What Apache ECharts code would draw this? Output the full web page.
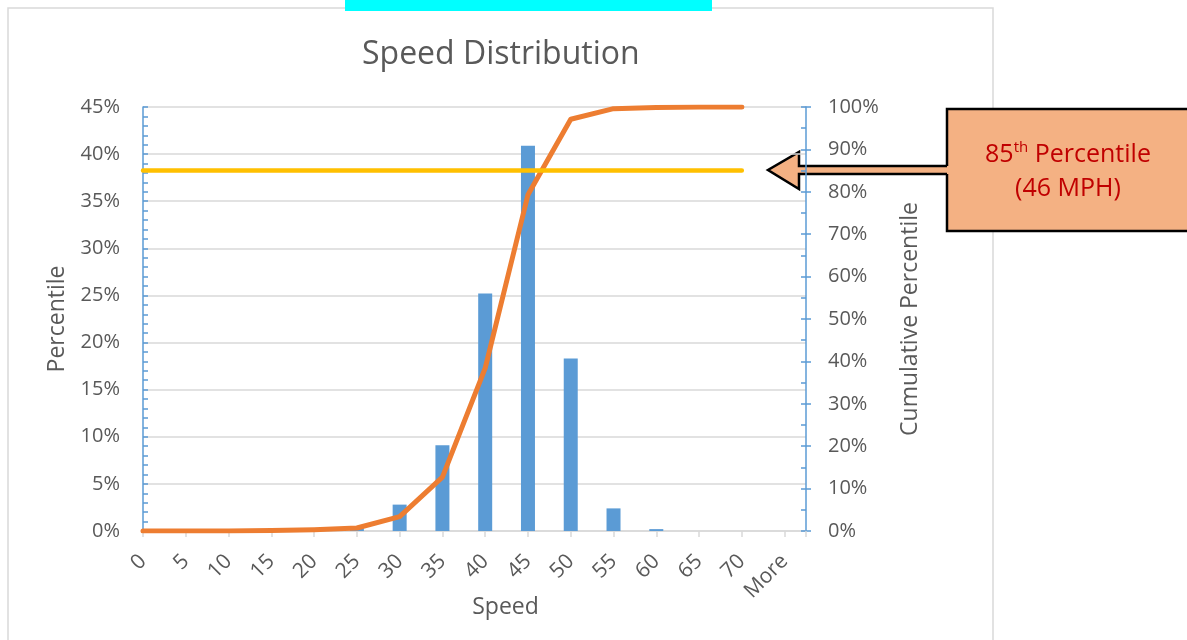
<!DOCTYPE html>
<html>
<head>
<meta charset="utf-8">
<script src="https://cdn.jsdelivr.net/npm/echarts@6/dist/echarts.min.js"></script>
<style>
html, body { margin: 0; padding: 0; background: #fff; }
#chart { width: 1187px; height: 640px; }
</style>
</head>
<body>
<div id="chart"></div>
<script>
// speed bins (MPH)
const speeds = ['0', '5', '10', '15', '20', '25', '30', '35', '40', '45', '50', '55', '60', '65', '70', 'More']
// share of vehicles in each bin
const percentile = [0, 0, 0, 0.001, 0.002, 0.003, 0.028, 0.091, 0.252, 0.409, 0.183, 0.024, 0.002, 0, 0, 0]
// cumulative share, bins 0..70
const cumulative = [0, 0, 0, 0.001, 0.003, 0.007, 0.034, 0.127, 0.384, 0.793, 0.971, 0.996, 0.999, 1, 1]
// 85th percentile marker
const pct85 = 0.85
const pct85Bins = speeds.slice(0, 15)

const grey = '#595959'
const blue = '#5B9BD5'
const font = 'Open Sans'

const chart = echarts.init(document.getElementById('chart'))

const barData = speeds.map((s, i) => [i, percentile[i]])
const cumData = cumulative.map((v, i) => [i, v])
const p85Data = pct85Bins.map((s, i) => [i, pct85])

const option = {
  animation: false,
  textStyle: { fontFamily: font },
  title: {
    text: 'Speed Distribution',
    left: 357,
    top: 34,
    textStyle: { color: grey, fontSize: 32, fontWeight: 'normal', fontFamily: font }
  },
  grid: { left: 143, right: 381, top: 107, bottom: 109 },
  xAxis: {
    type: 'value',
    min: 0,
    max: 15.5,
    interval: 1,
    name: 'Speed',
    nameLocation: 'middle',
    nameGap: 65,
    nameMoveOverlap: false,
    nameTextStyle: { color: grey, fontSize: 23, padding: [0, 0, 0, 62] },
    axisLine: { show: true, onZero: false, lineStyle: { color: '#d9d9d9', width: 1.5 } },
    axisTick: { show: true, length: 6, lineStyle: { color: '#d9d9d9', width: 1.5 } },
    axisLabel: {
      rotate: 45,
      margin: 27,
      color: grey,
      fontSize: 21,
      formatter: v => speeds[v] ?? ''
    },
    splitLine: { show: false }
  },
  yAxis: [
    {
      type: 'value',
      min: 0,
      max: 0.45,
      interval: 0.05,
      position: 'left',
      name: 'Percentile',
      nameLocation: 'middle',
      nameGap: 74,
      nameRotate: 90,
      nameTextStyle: { color: grey, fontSize: 23 },
      axisLine: { show: true, lineStyle: { color: blue, width: 1.5 } },
      axisTick: { show: true, inside: true, length: 5, lineStyle: { color: blue, width: 1.5 } },
      minorTick: { show: true, splitNumber: 5, length: 5, lineStyle: { color: blue, width: 1.5 } },
      axisLabel: { color: grey, fontSize: 20, margin: 23, formatter: v => Math.round(v * 100) + '%' },
      splitLine: { show: true, lineStyle: { color: '#d9d9d9', width: 1.5 } }
    },
    {
      type: 'value',
      min: 0,
      max: 1,
      interval: 0.1,
      position: 'right',
      name: 'Cumulative Percentile',
      nameLocation: 'middle',
      nameGap: 93,
      nameRotate: 90,
      nameTextStyle: { color: grey, fontSize: 23 },
      axisLine: { show: true, lineStyle: { color: blue, width: 1.5 } },
      axisTick: { show: true, inside: true, length: 5, lineStyle: { color: blue, width: 1.5 } },
      minorTick: { show: true, splitNumber: 2, length: 5, lineStyle: { color: blue, width: 1.5 } },
      axisLabel: { color: grey, fontSize: 20, margin: 22, formatter: v => Math.round(v * 100) + '%' },
      splitLine: { show: false }
    },
    {
      // outer half of the crossing major ticks on the right axis
      type: 'value',
      min: 0,
      max: 1,
      interval: 0.1,
      position: 'right',
      axisLine: { show: false },
      axisTick: { show: true, length: 5, lineStyle: { color: blue, width: 1.5 } },
      axisLabel: { show: false },
      splitLine: { show: false }
    }
  ],
  series: [
    {
      type: 'bar',
      yAxisIndex: 0,
      data: barData,
      barWidth: 14,
      itemStyle: { color: blue }
    },
    {
      type: 'line',
      yAxisIndex: 1,
      data: cumData,
      showSymbol: false,
      lineStyle: { color: '#ED7D31', width: 5, cap: 'round', join: 'round' }
    },
    {
      type: 'line',
      yAxisIndex: 1,
      data: p85Data,
      showSymbol: false,
      lineStyle: { color: '#FFC000', width: 4.5, cap: 'round' }
    }
  ],
  graphic: [
    {
      type: 'rect',
      shape: { x: 8, y: 8, width: 985, height: 700 },
      style: { fill: null, stroke: '#d9d9d9', lineWidth: 1.5 },
      silent: true,
      z: -10
    },
    {
      type: 'rect',
      shape: { x: 345, y: 0, width: 367, height: 11 },
      style: { fill: '#00FFFF' }
    },
    {
      type: 'rect',
      shape: { x: 947, y: 109, width: 260, height: 122 },
      style: { fill: '#F4B183', stroke: '#000', lineWidth: 2.5 }
    },
    {
      type: 'polygon',
      shape: { points: [[768, 170], [799, 152], [799, 166], [950, 166], [950, 174], [799, 174], [799, 189]] },
      style: { fill: '#F4B183', stroke: null }
    },
    {
      type: 'polyline',
      shape: { points: [[947, 166], [799, 166], [799, 152], [768, 170], [799, 189], [799, 174], [947, 174]] },
      style: { fill: null, stroke: '#000', lineWidth: 2.5 }
    },
    {
      type: 'text',
      x: 1068,
      y: 155,
      style: {
        text: '{a|85}{s|th}{a| Percentile}',
        align: 'center',
        verticalAlign: 'middle',
        rich: {
          a: { fontSize: 25, fontFamily: font, fill: '#C00000', lineHeight: 30 },
          s: { fontSize: 15, fontFamily: font, fill: '#C00000', lineHeight: 30, padding: [0, 0, 14, 0] }
        }
      }
    },
    {
      type: 'text',
      x: 1068,
      y: 189,
      style: {
        text: '(46 MPH)',
        align: 'center',
        verticalAlign: 'middle',
        fontSize: 25,
        fontFamily: font,
        fill: '#C00000'
      }
    }
  ]
}

chart.setOption(option)
</script>
</body>
</html>
